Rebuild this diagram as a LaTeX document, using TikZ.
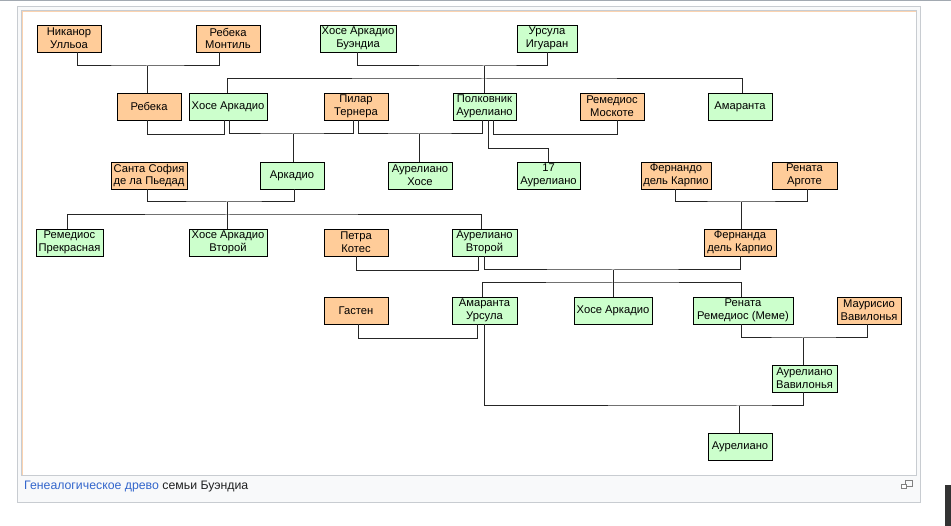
\documentclass[tikz,border=0pt]{standalone}
\usepackage{fontspec}
\setmainfont{Liberation Sans}
\usepackage{xcolor}
\usepackage{tikz}
\usetikzlibrary{positioning,calc}
\definecolor{spousefill}{HTML}{FFCC99}
\definecolor{kinfill}{HTML}{CCFFCC}
\definecolor{framegray}{HTML}{C8CCD1}
\definecolor{topgray}{HTML}{A2A9B1}
\definecolor{thumbbg}{HTML}{F8F9FA}
\definecolor{peachline}{HTML}{FBD3B0}
\definecolor{wikilink}{HTML}{3366CC}
\definecolor{captext}{HTML}{202122}

\begin{document}
\begin{tikzpicture}[
  x=1pt,y=-1pt,
  person/.style={draw=black,line width=0.9pt,minimum width=64pt,minimum height=27pt,
                 inner sep=1pt,align=center,font=\fontsize{11.2}{12.8}\selectfont},
  kin/.style={person,fill=kinfill},
  inlaw/.style={person,fill=spousefill},
  link/.style={line width=1pt,black!85}
]
\useasboundingbox (0,0) rectangle (951,526);
\fill[white] (0,0) rectangle (951,526);
\fill[topgray] (0,0) rectangle (951,1.2);
\draw[framegray,fill=thumbbg] (17.5,6.5) rectangle (920.5,502.5);
\draw[framegray,fill=white] (21.5,10.5) rectangle (916.5,475.5);
\draw[peachline] (22.5,475) -- (22.5,11.5) -- (916,11.5);
\fill[black!80] (945,485) rectangle (951,526);
\draw[gray,line width=0.8pt] (905,480) rectangle (912,486);
\draw[gray,line width=0.8pt,fill=white] (901,484) rectangle (906,488);

\node[inlaw] (nik) at (69,38.5) {Никанор\\Улльоа};
\node[inlaw] (rmon) at (228,38.5) {Ребека\\Монтиль};
\node[kin,minimum width=76pt] (jab) at (358,38.5) {Хосе Аркадио\\Буэндиа};
\node[kin,minimum width=60pt] (urs) at (547,38.5) {Урсула\\Игуаран};

\node[inlaw] (reb) at (149,106.5) {Ребека};
\node[kin,minimum width=78pt] (ja) at (228,106.5) {Хосе Аркадио};
\node[inlaw] (pil) at (356,106.5) {Пилар\\Тернера};
\node[kin,minimum width=63pt] (cor) at (484.5,106.5) {Полковник\\Аурелиано};
\node[inlaw] (rmos) at (612,106.5) {Ремедиос\\Москоте};
\node[kin] (ama) at (740,106.5) {Амаранта};

\node[inlaw,minimum width=76pt] (sof) at (149,175.5) {Санта София\\де ла Пьедад};
\node[kin] (ark) at (292,175.5) {Аркадио};
\node[kin] (ajo) at (420,175.5) {Аурелиано\\Хосе};
\node[kin,minimum width=63pt] (a17) at (548.5,175.5) {17\\Аурелиано};
\node[inlaw,minimum width=70pt] (fer) at (676,175.5) {Фернандо\\дель Карпио};
\node[inlaw,minimum width=65pt] (ren) at (804.5,175.5) {Рената\\Арготе};

\node[kin,minimum width=67pt] (rem) at (69.5,242.5) {Ремедиос\\Прекрасная};
\node[kin,minimum width=78pt] (ja2) at (228,242.5) {Хосе Аркадио\\Второй};
\node[inlaw] (pet) at (356,242.5) {Петра\\Котес};
\node[kin,minimum width=65pt] (au2) at (484.5,242.5) {Аурелиано\\Второй};
\node[inlaw,minimum width=72pt] (fda) at (740,242.5) {Фернанда\\дель Карпио};

\node[inlaw] (gas) at (356,310.5) {Гастен};
\node[kin,minimum width=65pt] (amu) at (484.5,310.5) {Амаранта\\Урсула};
\node[kin,minimum width=78pt] (ja3) at (613,310.5) {Хосе Аркадио};
\node[kin,minimum width=100pt] (meme) at (743,310.5) {Рената\\Ремедиос (Меме)};
\node[inlaw] (mau) at (869,310.5) {Маурисио\\Вавилонья};

\node[kin,minimum width=65pt] (auv) at (804.5,378.5) {Аурелиано\\Вавилонья};
\node[kin] (aur) at (740,446.5) {Аурелиано};

\coordinate (m1) at (147,66);
\draw[link] ([xshift=8]nik.south) |- (m1) -| ([xshift=-9]rmon.south);
\draw[link] (m1) -- (reb.north -| m1);

\coordinate (m2) at (484,66);
\draw[link] ([xshift=-1]jab.south) |- (m2) -| (urs.south);
\draw[link] (m2) -- (cor.north -| m2);
\coordinate (s1) at (484,79);
\draw[link] ([xshift=-1]ja.north) |- (s1) -| ([xshift=2]ama.north);

\draw[link] ([xshift=-2]reb.south) -- ++(0,14) -| ([xshift=-4]ja.south);

\coordinate (m4) at (293,134);
\draw[link] ([xshift=1]ja.south) |- (m4) -| ([xshift=-3]pil.south);
\draw[link] (m4) -- (ark.north -| m4);

\coordinate (m5) at (419,134);
\draw[link] ([xshift=2]pil.south) |- (m5) -| ([xshift=-2.5]cor.south);
\draw[link] (m5) -- (ajo.north -| m5);

\draw[link] ([xshift=3.5]cor.south) -- ++(0,28) -| (a17.north);
\draw[link] ([xshift=8.5]cor.south) -- ++(0,14) -| ([xshift=5]rmos.south);

\coordinate (m8) at (227,202);
\draw[link] ([xshift=-2]sof.south) |- (m8) -| ([xshift=2]ark.south);
\draw[link] (m8) -- (ja2.north -| m8);
\coordinate (s2) at (227,215);
\draw[link] ([xshift=-2.5]rem.north) |- (s2) -| ([xshift=-3.5]au2.north);

\coordinate (m9) at (741,202);
\draw[link] ([xshift=-1]fer.south) |- (m9) -| ([xshift=2.5]ren.south);
\draw[link] (m9) -- (fda.north -| m9);

\draw[link] (pet.south) -- ++(0,14) -| ([xshift=-6.5]au2.south);

\coordinate (m11) at (613,270);
\draw[link] ([xshift=-0.5]au2.south) |- (m11) -| (fda.south);
\draw[link] (m11) -- (ja3.north -| m11);
\coordinate (s3) at (613,283);
\draw[link] ([xshift=-2.5]amu.north) |- (s3) -| ([xshift=-2]meme.north);

\draw[link] ([xshift=2]gas.south) -- ++(0,14) -| ([xshift=-7.5]amu.south);

\coordinate (m13) at (803,338);
\draw[link] ([xshift=-2]meme.south) |- (m13) -| ([xshift=-2]mau.south);
\draw[link] (m13) -- (auv.north -| m13);

\coordinate (m14) at (739,406);
\draw[link] ([xshift=-0.5]amu.south) |- (m14) -| ([xshift=-1.5]auv.south);
\draw[link] (m14) -- (aur.north -| m14);

\node[anchor=west,inner sep=0pt,font=\fontsize{12.3}{14}\selectfont,text=captext] (caption) at (24,487)
  {\textcolor{wikilink}{Генеалогическое древо} семьи Буэндиа};
\end{tikzpicture}
\end{document}
